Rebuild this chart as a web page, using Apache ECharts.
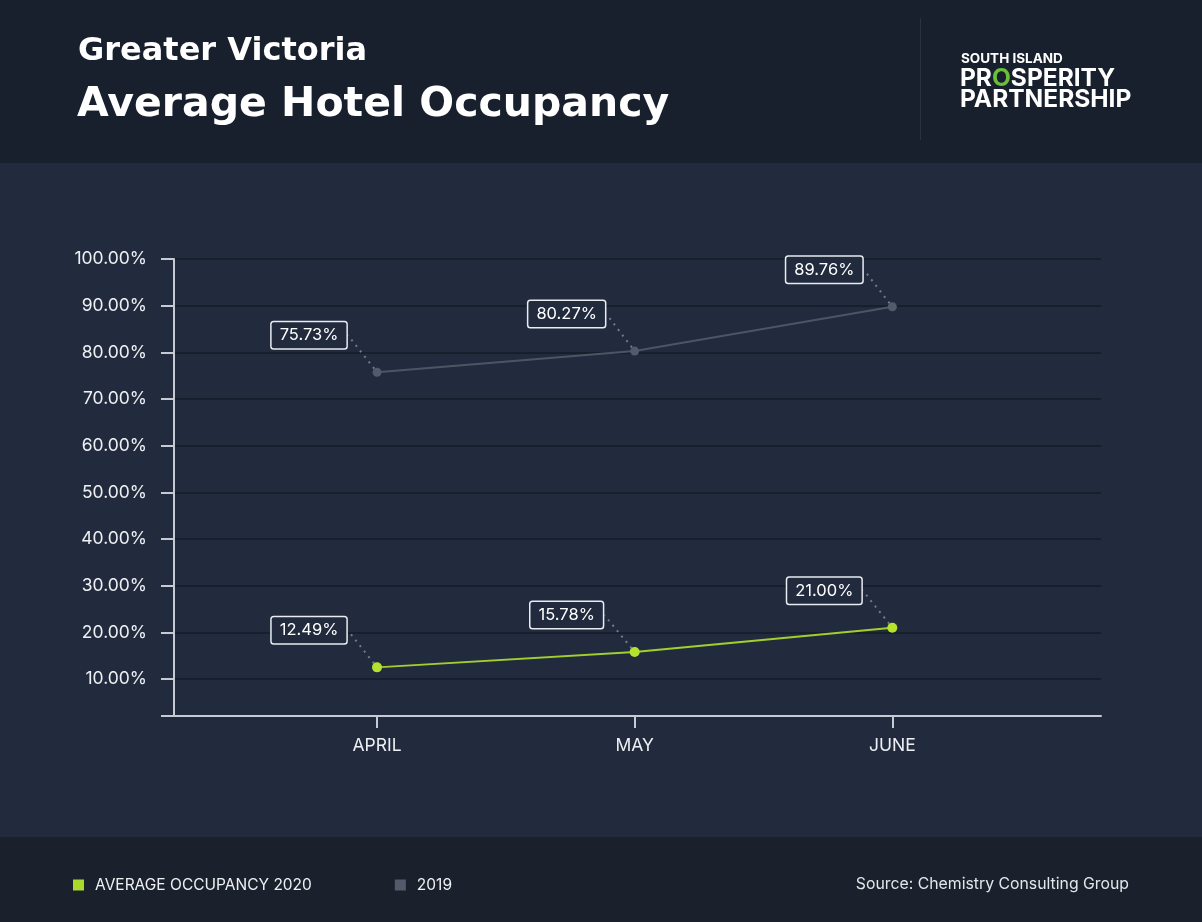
<!DOCTYPE html>
<html>
<head>
<meta charset="utf-8">
<script src="https://cdn.jsdelivr.net/npm/echarts@6/dist/echarts.min.js"></script>
<style>
html,body{margin:0;padding:0;background:#212b3d;}
#chart{width:1202px;height:922px;}
</style>
</head>
<body>
<div id="chart"></div>
<script>
// ---- data ----
const categories = ['APRIL', 'MAY', 'JUNE'];
const occupancy2020 = [12.49, 15.78, 21.00];
const occupancy2019 = [75.73, 80.27, 89.76];
const yTickValues = [10, 20, 30, 40, 50, 60, 70, 80, 90, 100];
const seriesNames = ['AVERAGE OCCUPANCY 2020', '2019'];

const Y_MIN = 2.07, Y_MAX = 100;
const X_MIN = 0.212, X_MAX = 3.81;

const FONT = 'Inter, "Noto Sans", sans-serif';
const TITLE_FONT = '"DejaVu Sans", Inter, sans-serif';
const toPoints = arr => arr.map((v, i) => [i + 1, v]);

const labelCfg = {
  show: true,
  position: 'inside',
  formatter: p => p.value[1].toFixed(2) + '%',
  color: '#ffffff',
  fontFamily: FONT,
  fontSize: 16.5,
  backgroundColor: '#212b3d',
  borderColor: '#e9ecf1',
  borderWidth: 1.5,
  borderRadius: 2,
  padding: [5, 8, 4, 8]
};
const labelLineCfg = {
  show: true,
  lineStyle: { type: [2, 5], color: '#747c8c', width: 2 }
};

const chart = echarts.init(document.getElementById('chart'), null, { renderer: 'canvas' });
chart.setOption({
  backgroundColor: '#212b3d',
  animation: false,
  graphic: [
    { type: 'rect', left: 0, top: 0, shape: { width: 1202, height: 163 }, style: { fill: '#19202d' }, z: -10 },
    { type: 'rect', left: 0, top: 837, shape: { width: 1202, height: 85 }, style: { fill: '#1a202c' }, z: -10 },
    { type: 'rect', left: 920, top: 18, shape: { width: 1, height: 122 }, style: { fill: '#2a3242' } },
    { type: 'text', left: 78, top: 36, style: { text: 'Greater Victoria', fill: '#ffffff', font: 'bold 32px ' + TITLE_FONT } },
    { type: 'text', left: 77, top: 85, style: { text: 'Average Hotel Occupancy', fill: '#ffffff', font: 'bold 41px ' + TITLE_FONT } },
    { type: 'text', left: 961, top: 52, style: { text: 'SOUTH ISLAND', fill: '#ffffff', font: 'bold 13.5px ' + FONT } },
    { type: 'text', left: 960, top: 66, style: {
        text: '{a|PR}{o|O}{a|SPERITY}\n{a|PARTNERSHIP}',
        lineHeight: 21,
        rich: {
          a: { fill: '#ffffff', font: 'bold 24.5px ' + FONT, lineHeight: 21 },
          o: { fill: '#6abf3a', font: 'bold 24.5px ' + FONT, lineHeight: 21 }
        }
      } },
    { type: 'text', right: 73, top: 876, style: { text: 'Source: Chemistry Consulting Group', fill: '#e3e6eb', font: '15.8px ' + FONT } }
  ],
  legend: {
    left: 68,
    top: 872,
    icon: 'rect',
    itemWidth: 11,
    itemHeight: 11,
    itemGap: 83,
    data: [
      { name: seriesNames[0], itemStyle: { color: '#a9d92c' } },
      { name: seriesNames[1], itemStyle: { color: '#535a6b' } }
    ],
    textStyle: { color: '#eef0f3', fontFamily: FONT, fontSize: 15.5, padding: [0, 0, 0, 6] }
  },
  grid: { left: 174, right: 101, top: 259, bottom: 206, containLabel: false },
  xAxis: {
    type: 'value',
    min: X_MIN,
    max: X_MAX,
    axisLine: { show: true, lineStyle: { color: '#c5cad3', width: 2 } },
    axisTick: { show: true, length: 12, customValues: [1, 2, 3], lineStyle: { color: '#c5cad3', width: 2 } },
    axisLabel: {
      customValues: [1, 2, 3],
      formatter: v => categories[Math.round(v) - 1] || '',
      color: '#eef0f3', fontFamily: FONT, fontSize: 17.5, margin: 21
    },
    splitLine: { show: false }
  },
  yAxis: {
    type: 'value',
    min: Y_MIN,
    max: Y_MAX,
    axisLine: { show: true, lineStyle: { color: '#c5cad3', width: 2 } },
    axisTick: { show: true, length: 13, customValues: [Y_MIN].concat(yTickValues), lineStyle: { color: '#c5cad3', width: 2 } },
    axisLabel: {
      customValues: yTickValues,
      formatter: v => v.toFixed(2) + '%',
      color: '#eef0f3', fontFamily: FONT, fontSize: 17.5, margin: 27
    },
    splitLine: { show: true, lineStyle: { color: '#181f2c', width: 2 } }
  },
  series: [
    {
      name: seriesNames[1],
      type: 'line',
      data: toPoints(occupancy2019),
      symbol: 'circle',
      symbolSize: 9,
      lineStyle: { color: '#4d5466', width: 2 },
      itemStyle: { color: '#535a6b' },
      label: labelCfg,
      labelLine: labelLineCfg,
      labelLayout: { dx: -68, dy: -37 },
      z: 3
    },
    {
      name: seriesNames[0],
      type: 'line',
      data: toPoints(occupancy2020),
      symbol: 'circle',
      symbolSize: 10,
      lineStyle: { color: '#a3cf2c', width: 2 },
      itemStyle: { color: '#b5e22f' },
      label: labelCfg,
      labelLine: labelLineCfg,
      labelLayout: { dx: -68, dy: -37 },
      z: 4
    }
  ]
});
</script>
</body>
</html>
